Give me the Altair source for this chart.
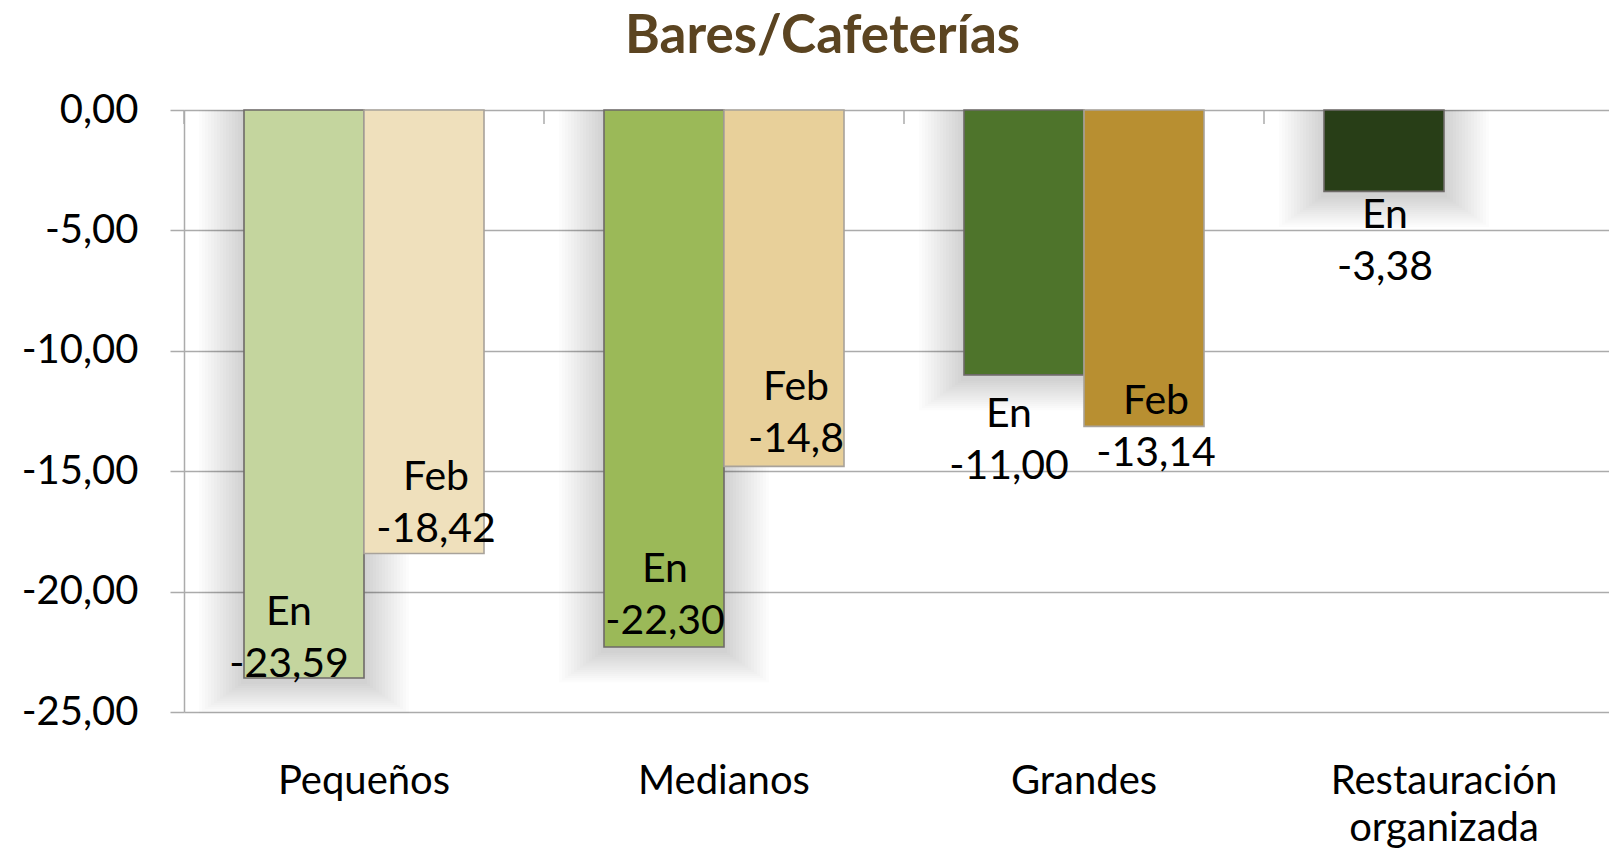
import altair as alt
import pandas as pd

# ---- data ----
categories = ["Pequeños", "Medianos", "Grandes", "Restauración organizada"]
series = ["En", "Feb"]
en_values = [-23.59, -22.30, -11.00, -3.38]
feb_values = [-18.42, -14.8, -13.14, None]
en_text = ["-23,59", "-22,30", "-11,00", "-3,38"]
feb_text = ["-18,42", "-14,8", "-13,14", None]
# where the first line of each data label sits (data units)
en_label_at = [-21.39, -19.60, -13.16, -4.90]
feb_label_at = [-15.78, -12.04, -12.62, None]
y_ticks = [0, -5, -10, -15, -20, -25]

# ---- styles ----
en_colors = ["#C4D59E", "#9BB958", "#4E742B", "#283E17"]
feb_colors = ["#EFE0BC", "#E8D09A", "#B88F31"]
GRID = "#ABABAB"
FONT = "Lato"

rows = []
keys, palette = [], []
for i, c in enumerate(categories):
    rows.append(dict(cat=c, series="En", value=en_values[i],
                     txt="En\n" + en_text[i], label_at=en_label_at[i], key=c + "|En"))
    keys.append(c + "|En"); palette.append(en_colors[i])
    if feb_values[i] is not None:
        rows.append(dict(cat=c, series="Feb", value=feb_values[i],
                         txt="Feb\n" + feb_text[i], label_at=feb_label_at[i], key=c + "|Feb"))
        keys.append(c + "|Feb"); palette.append(feb_colors[i])
df = pd.DataFrame(rows)
cats_df = pd.DataFrame({"cat": categories})

xscale = alt.Scale(domain=categories, range=[0, 1440], paddingInner=1 / 3, paddingOuter=1 / 6)
yscale = alt.Scale(domain=[-25, 0], nice=False, zero=False)
xoff = alt.XOffset("series:N", scale=alt.Scale(domain=series, paddingInner=0, paddingOuter=0))

x_axis = alt.Axis(
    title=None, domain=False, ticks=False, tickSize=0, grid=False,
    labelAngle=0, labelFont=FONT, labelFontSize=40, labelColor="black",
    labelPadding=81, labelBaseline="alphabetic", labelLineHeight=47,
    labelOverlap=False, labelLimit=0,
    labelExpr="indexof(datum.label, ' ') > 0 ? split(datum.label, ' ') : datum.label",
)
y_axis = alt.Axis(
    title=None, values=y_ticks,
    labelExpr="replace(replace(format(datum.value, '.2f'), '.', ','), '\u2212', '-')",
    labelFont=FONT, labelFontSize=40, labelColor="black", labelPadding=32,
    tickSize=14, tickColor=GRID, tickWidth=1.5,
    domainColor=GRID, domainWidth=1.5,
    grid=True, gridColor=GRID, gridWidth=1.5,
)

base = alt.Chart(df)

# soft drop shadow for the "En" bars
shadows = []
for e in range(3, 46, 3):
    shadows.append(
        base.transform_filter(alt.datum.series == "En")
        .mark_bar(width=120 + 2 * e, color="black", opacity=0.013, yOffset=e * 0.7 + 4)
        .encode(
            x=alt.X("cat:N", scale=xscale, axis=x_axis),
            xOffset=xoff,
            y=alt.Y("value:Q", scale=yscale, axis=y_axis),
            y2=alt.datum(0),
        )
    )

bars = base.mark_bar(strokeWidth=1.6).encode(
    x=alt.X("cat:N", scale=xscale, axis=x_axis),
    xOffset=xoff,
    y=alt.Y("value:Q", scale=yscale, axis=y_axis, stack=None),
    color=alt.Color("key:N", scale=alt.Scale(domain=keys, range=palette), legend=None),
    stroke=alt.Stroke("series:N", scale=alt.Scale(domain=series, range=["#6E6A68", "#A8A29A"]), legend=None),
)

# category boundary ticks hanging from the zero line
ticks = alt.Chart(cats_df).mark_rule(color=GRID, strokeWidth=1.5, xOffset=-60).encode(
    x=alt.X("cat:N", scale=xscale, bandPosition=0, axis=x_axis),
    y=alt.value(0),
    y2=alt.value(14),
)


def labels(cond, dx):
    return (
        base.transform_filter(cond)
        .mark_text(font=FONT, fontSize=41, color="black", align="center",
                   baseline="alphabetic", lineBreak="\n", lineHeight=52, dx=dx)
        .encode(
            x=alt.X("cat:N", scale=xscale, axis=x_axis),
            xOffset=xoff,
            y=alt.Y("label_at:Q", scale=yscale, axis=y_axis),
            text="txt:N",
        )
    )


lab_feb = labels(alt.datum.series == "Feb", 12)
lab_en_a = labels((alt.datum.series == "En") & ((alt.datum.cat == "Pequeños") | (alt.datum.cat == "Grandes")), -15)
lab_en_b = labels((alt.datum.series == "En") & ((alt.datum.cat == "Medianos") | (alt.datum.cat == "Restauración organizada")), 1)

chart = (
    alt.layer(*shadows, bars, ticks, lab_feb, lab_en_a, lab_en_b)
    .properties(
        width=1425,
        height=602,
        padding={"left": 176, "top": 102, "right": 0, "bottom": 150},
        autosize=alt.AutoSizeParams(type="none"),
        title=alt.Title(
            "Bares/Cafeterías", font=FONT, fontSize=53, fontWeight="bold",
            color="#5B4421", anchor="middle", frame="bounds",
            baseline="alphabetic", offset=-16,
        ),
    )
    .configure_view(strokeWidth=0)
)

chart.save("out.html", embed_options={"renderer": "svg", "actions": False})
